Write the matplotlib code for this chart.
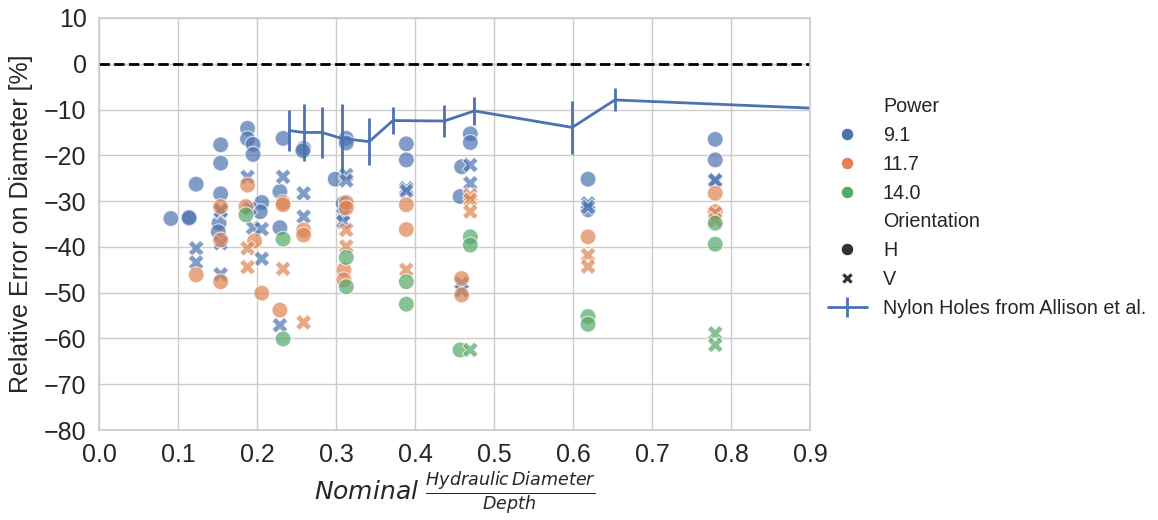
import numpy as np
import pandas as pd
import matplotlib
matplotlib.use("Agg")
import matplotlib.pyplot as plt
import seaborn as sns

# ------------------------------------------------------------
# measured points (read off the reference), grouped by power / orientation
# ------------------------------------------------------------
blue_h_x = [0.091, 0.114, 0.114, 0.123, 0.154, 0.154, 0.154, 0.152, 0.151, 0.188, 0.188,
            0.195, 0.195, 0.206, 0.204, 0.233, 0.229, 0.229, 0.259, 0.258, 0.299, 0.313,
            0.313, 0.309, 0.389, 0.389, 0.459, 0.457, 0.470, 0.470, 0.619, 0.619, 0.780, 0.780]
blue_h_y = [-33.8, -33.8, -33.6, -26.3, -17.7, -21.7, -28.4, -34.8, -36.7, -14.1, -16.4,
            -17.6, -19.8, -30.3, -32.3, -16.3, -27.9, -35.8, -18.5, -19.0, -25.2, -16.3,
            -17.3, -30.5, -17.5, -21.0, -22.5, -29.0, -15.3, -17.2, -25.2, -31.9, -16.5, -21.0]

blue_v_x = [0.123, 0.123, 0.154, 0.154, 0.154, 0.154, 0.188, 0.191, 0.195, 0.206, 0.206,
            0.233, 0.229, 0.259, 0.259, 0.313, 0.313, 0.309, 0.309, 0.389, 0.389, 0.470,
            0.470, 0.459, 0.459, 0.619, 0.619, 0.780, 0.780]
blue_v_y = [-40.3, -43.4, -32.3, -32.0, -39.2, -46.0, -24.7, -31.6, -35.8, -36.1, -42.6,
            -24.7, -57.1, -28.3, -33.4, -24.3, -25.5, -33.0, -34.5, -27.2, -27.8, -22.1,
            -26.1, -48.0, -49.5, -30.5, -31.3, -25.7, -25.4]

orange_h_x = [0.123, 0.154, 0.154, 0.154, 0.188, 0.186, 0.197, 0.206, 0.233, 0.233, 0.229,
              0.259, 0.259, 0.313, 0.313, 0.310, 0.310, 0.389, 0.389, 0.459, 0.459, 0.619,
              0.780, 0.780]
orange_h_y = [-46.1, -31.2, -38.5, -47.6, -26.5, -31.2, -38.7, -50.1, -30.3, -30.8, -53.8,
              -36.3, -37.4, -30.3, -31.5, -45.0, -47.2, -30.8, -36.2, -46.9, -50.5, -37.8,
              -28.3, -32.3]

orange_v_x = [0.188, 0.188, 0.233, 0.259, 0.313, 0.313, 0.389, 0.470, 0.470, 0.470, 0.619,
              0.619, 0.780, 0.780]
orange_v_y = [-40.3, -44.4, -44.8, -56.5, -36.3, -39.9, -45.0, -28.7, -29.7, -32.3, -41.8,
              -44.3, -32.6, -34.1]

green_h_x = [0.186, 0.233, 0.233, 0.313, 0.313, 0.389, 0.389, 0.470, 0.470, 0.457, 0.619,
             0.619, 0.780, 0.780]
green_h_y = [-33.0, -38.3, -60.1, -42.3, -48.7, -47.6, -52.5, -37.8, -39.6, -62.5, -55.2,
             -56.9, -34.8, -39.4]

green_v_x = [0.470, 0.780, 0.780]
green_v_y = [-62.5, -58.9, -61.4]

# Allison et al. nylon holes (mean +/- error)
allison_x = [0.241, 0.259, 0.282, 0.307, 0.342, 0.372, 0.437, 0.475, 0.599, 0.653, 1.0]
allison_y = [-14.6, -15.0, -15.0, -16.3, -17.0, -12.4, -12.5, -10.3, -13.9, -7.9, -10.4]
allison_err = [4.5, 6.3, 5.6, 7.5, 5.1, 3.0, 3.6, 3.0, 5.8, 2.5, 3.0]

powers = ["9.1", "11.7", "14.0"]
orients = ["H", "V"]

groups = [
    ("9.1", "H", blue_h_x, blue_h_y),
    ("9.1", "V", blue_v_x, blue_v_y),
    ("11.7", "H", orange_h_x, orange_h_y),
    ("11.7", "V", orange_v_x, orange_v_y),
    ("14.0", "H", green_h_x, green_h_y),
    ("14.0", "V", green_v_x, green_v_y),
]
rows = []
for p, o, xs, ys in groups:
    for xv, yv in zip(xs, ys):
        rows.append({"ratio": xv, "err": yv, "Power": p, "Orientation": o})
df = pd.DataFrame(rows)

# ------------------------------------------------------------
# plot
# ------------------------------------------------------------
sns.set_theme(style="whitegrid")
plt.rcParams["font.family"] = ["Liberation Sans", "DejaVu Sans"]

fig, ax = plt.subplots(figsize=(11.58, 5.2), dpi=100)
fig.subplots_adjust(left=0.0855, right=0.6995, top=0.9654, bottom=0.173)

sns.scatterplot(data=df, x="ratio", y="err", hue="Power", hue_order=powers,
                style="Orientation", style_order=orients, markers={"H": "o", "V": "X"},
                palette="deep", s=130, alpha=0.7, edgecolor="white", linewidth=0.8, ax=ax)

ax.axhline(0, color="black", ls="--", lw=2)
eb = ax.errorbar(allison_x, allison_y, yerr=allison_err, color=sns.color_palette("deep")[0],
                 lw=2, elinewidth=2, capsize=0, label="Nylon Holes from Allison et al.")

ax.set_xlim(0, 0.9)
ax.set_ylim(-80, 10)
ax.set_xticks(np.arange(0, 0.91, 0.1))
ax.set_yticks(np.arange(-80, 11, 10))
ax.tick_params(labelsize=18, pad=3)
ax.set_ylabel("Relative Error on Diameter [%]", fontsize=18, labelpad=8)
ax.set_xlabel(r"$Nominal\ \frac{Hydraulic\,Diameter}{Depth}$", fontsize=18, labelpad=2)

old = ax.get_legend()
handles = list(old.legend_handles)
labels = [t.get_text() for t in old.texts]
old.remove()
for hd in handles:
    if hasattr(hd, "set_alpha"):
        hd.set_alpha(1)
handles.append(eb)
labels.append("Nylon Holes from Allison et al.")
ax.legend(handles, labels, loc="center left", bbox_to_anchor=(1.0, 0.54),
          frameon=False, fontsize=14.2, handlelength=2.0, labelspacing=0.5,
          markerscale=0.8)

fig.savefig("out.png", dpi=100)
